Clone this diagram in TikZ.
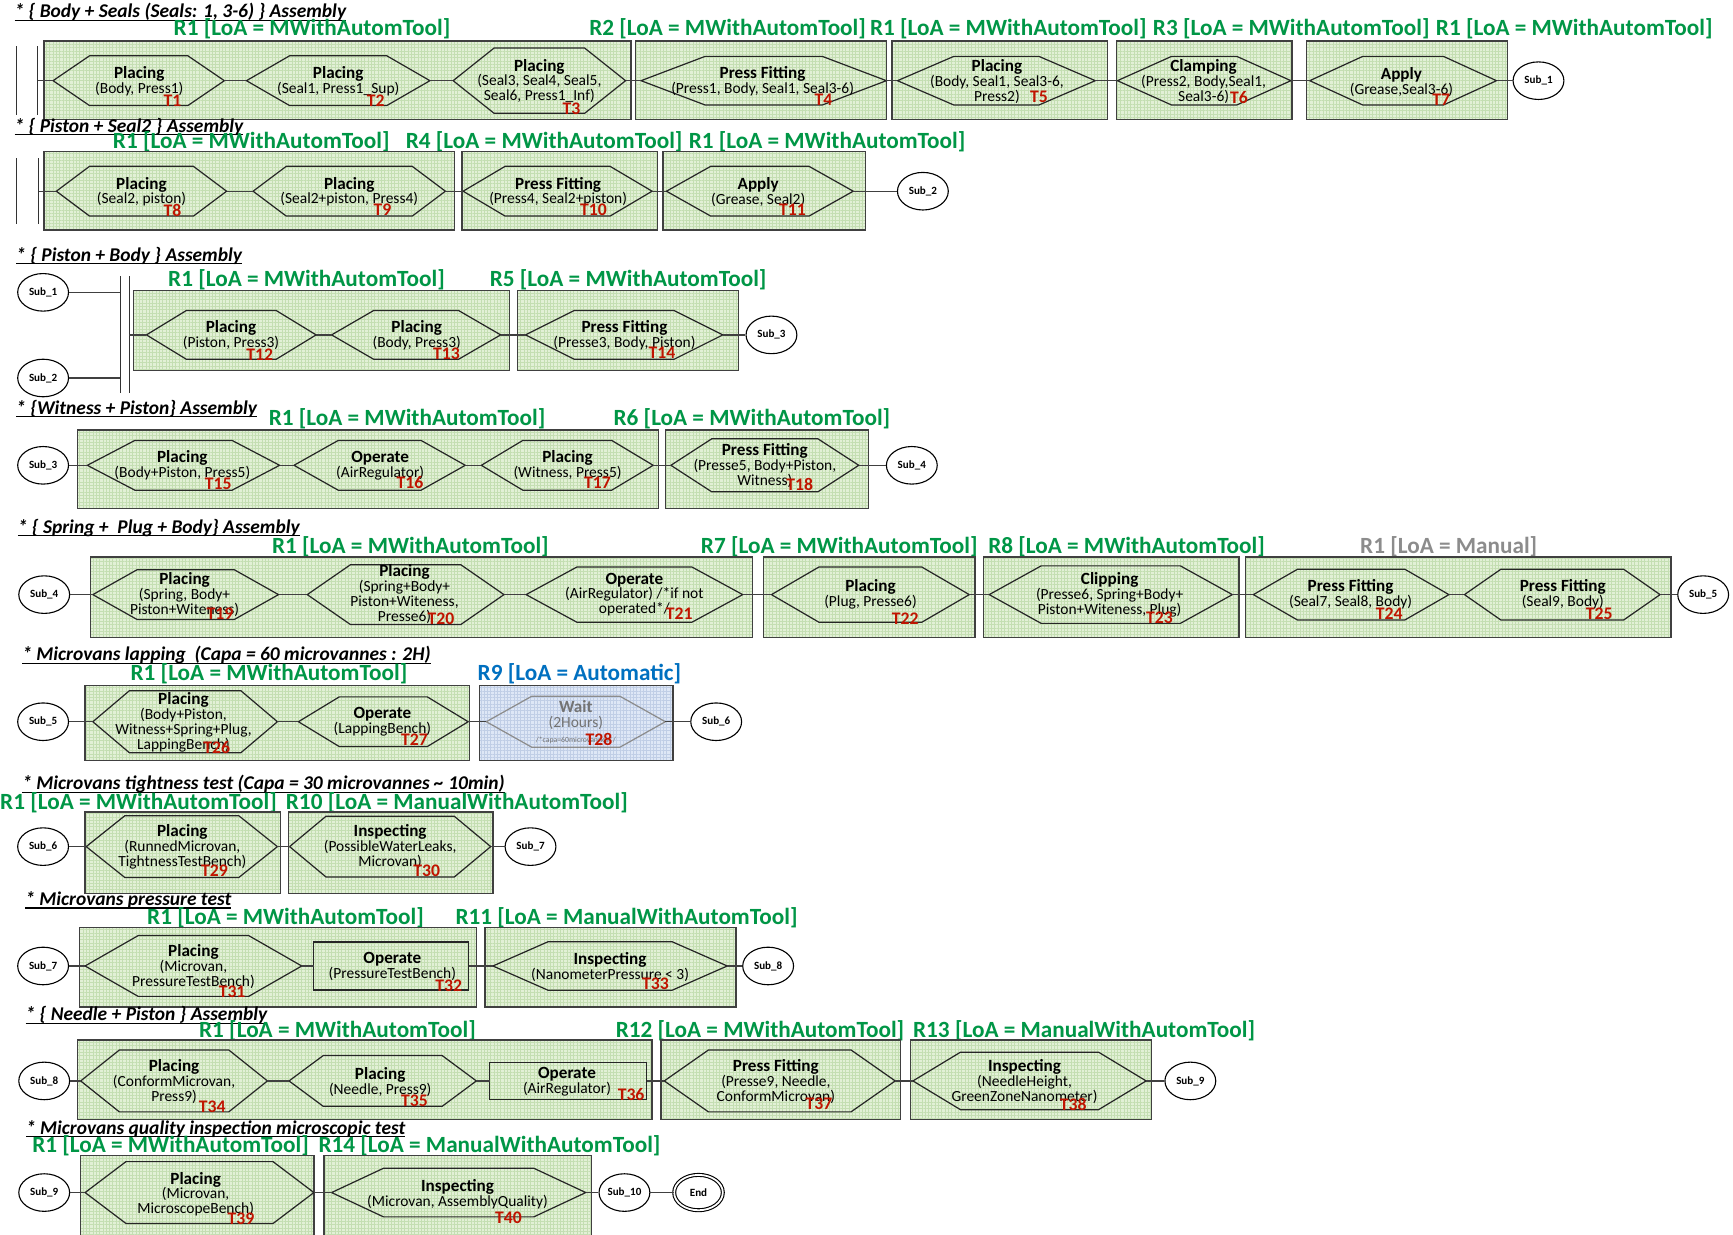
\documentclass[tikz,border=0pt]{standalone}
\usepackage{fontspec}
\setmainfont{Carlito}
\usetikzlibrary{shapes.geometric,patterns.meta}
\definecolor{lgreen}{RGB}{0,150,70}
\definecolor{lblue}{RGB}{0,112,192}
\definecolor{lgrey}{RGB}{140,140,140}
\definecolor{tred}{RGB}{192,20,0}
\definecolor{boxg}{RGB}{226,240,214}
\definecolor{gridg}{RGB}{196,222,178}
\definecolor{boxb}{RGB}{222,231,246}
\definecolor{gridb}{RGB}{192,206,230}
\definecolor{edge}{RGB}{64,64,64}
\newcommand{\xpf}{\fontsize{14}{13.5}\selectfont}
\newcommand{\xnm}[1]{{\fontsize{15.5}{13.5}\selectfont\bfseries #1}}
\newcommand{\xlf}{\fontsize{16}{16}\selectfont\bfseries}
\newcommand{\xrf}{\fontsize{21}{21}\selectfont\bfseries}
\newcommand{\xhf}{\fontsize{17.6}{17.6}\selectfont\bfseries\itshape}
\newcommand{\xsf}{\fontsize{10}{10}\selectfont\bfseries}
\newcommand{\xul}[1]{\setbox0=\hbox{#1}\rlap{\rule[-2.6pt]{\wd0}{1pt}}\box0}
\newcommand{\hexa}[7][]{%
  \node[hexanchor, minimum width={(#4-#3)*1pt}, minimum height={2*#6*1pt}] (#2) at ({(#3+#4)/2},#5) {};
  \draw[hexline,#1] (#2.west) -- ++(#7,-#6) -- ++({#4-#3-2*#7},0) -- (#2.east) -- ++(-#7,#6) -- ++({2*#7-#4+#3},0) -- cycle;
}
\newcommand{\rbox}[6][]{%
  \node[resbox,#1,minimum width={(#5-#3)*1pt},minimum height={(#6-#4)*1pt}] (#2) at ({(#3+#5)/2},{(#4+#6)/2}) {};
}
\tikzset{
 hexanchor/.style={rectangle, inner sep=0pt, outer sep=0pt, draw=none},
 hexline/.style={draw=black!85, line width=1.1pt},
 resbox/.style={rectangle, inner sep=0pt, outer sep=0pt, draw=edge, line width=1.3pt,
   preaction={fill=boxg}, pattern={Hatch[angle=0,distance=3pt,line width=0.45pt]}, pattern color=gridg},
 bluebox/.style={preaction={fill=boxb}, pattern color=gridb},
 conn/.style={draw=edge, line width=1.2pt},
 bar/.style={draw=black!80, line width=0.9pt},
 sub/.style={ellipse, draw=black, line width=1pt, fill=white, minimum width=46pt, minimum height=34pt, inner sep=0pt, font=\xsf},
 ttxt/.style={align=center, inner sep=0pt, font=\xpf},
 tlab/.style={inner sep=0pt, text=tred, font=\xlf},
 rlab/.style={anchor=west, inner sep=0pt, text=lgreen, font=\xrf},
 head/.style={anchor=west, inner sep=0pt, font=\xhf},
 oprect/.style={rectangle, draw=black!85, line width=1.1pt, inner sep=0pt, outer sep=0pt},
}
\begin{document}
\begin{tikzpicture}[x=1pt,y=-1pt]
\useasboundingbox (0,0) rectangle (1568,1117);
\fill[white] (0,0) rectangle (1568,1117);
% ================= Row 1
\node[head] (h1) at (13,11) {\xul{* \{ Body + Seals (Seals: 1, 3-6) \} Assembly}};
\node[rlab] (r1a) at (157,26) {R1 [LoA = MWithAutomTool]};
\node[rlab] (r1b) at (533,26) {R2 [LoA = MWithAutomTool]};
\node[rlab] (r1c) at (787,26) {R1 [LoA = MWithAutomTool]};
\node[rlab] (r1d) at (1043,26) {R3 [LoA = MWithAutomTool]};
\node[rlab] (r1e) at (1299,26) {R1 [LoA = MWithAutomTool]};
\rbox{B1a}{40}{37}{571}{108}
\rbox{B1b}{575}{37}{802}{108}
\rbox{B1c}{807}{37}{1002}{108}
\rbox{B1d}{1010}{37}{1169}{108}
\rbox{B1e}{1182}{37}{1364}{108}
\hexa{T1}{48}{203}{73}{22.5}{33}
\hexa{T2}{223}{389}{73}{22.5}{39}
\hexa{T3}{410}{566}{73}{29.5}{37}
\hexa{T4}{580}{802}{73}{22}{58}
\hexa{T5}{812}{991}{73}{22}{51}
\hexa{T6}{1011}{1168}{73}{22}{49}
\hexa{T7}{1185}{1354}{73}{22}{48}
\node[ttxt] (x1) at (126,73.5) {\xnm{Placing}\\(Body, Press1)};
\node[tlab] (l1) at (156,91) {T1};
\node[ttxt] (x2) at (306,73.5) {\xnm{Placing}\\(Seal1, Press1\_Sup)};
\node[tlab] (l2) at (340,91) {T2};
\node[ttxt] (x3) at (488,73.3) {\xnm{Placing}\\(Seal3, Seal4, Seal5,\\Seal6, Press1\_Inf)};
\node[tlab] (l3) at (517,98) {T3};
\node[ttxt] (x4) at (690,73.5) {\xnm{Press Fitting}\\(Press1, Body, Seal1, Seal3-6)};
\node[tlab] (l4) at (745,90) {T4};
\node[ttxt] (x5) at (902,73.5) {\xnm{Placing}\\(Body, Seal1, Seal3-6,\\Press2)};
\node[tlab] (l5) at (940,88) {T5};
\node[ttxt] (x6) at (1089,73.5) {\xnm{Clamping}\\(Press2, Body,Seal1,\\Seal3-6)};
\node[tlab] (l6) at (1121,88) {T6};
\node[ttxt] (x7) at (1268,74) {\xnm{Apply}\\(Grease,Seal3-6)};
\node[tlab] (l7) at (1304,90) {T7};
\node[sub] (s1) at (1392,73) {Sub\_1};
\coordinate (b1) at (34,73);
\draw[bar] (15,42) -- (15,104) (34,42) -- (34,104);
\draw[conn] (b1) -- (T1.west) (T1.east) -- (T2.west) (T2.east) -- (T3.west) (T3.east) -- (T4.west)
  (T4.east) -- (T5.west) (T5.east) -- (T6.west) (T6.east) -- (T7.west) (T7.east) -- (s1.west);
% ================= Row 2
\node[head] (h2) at (13,114.5) {\xul{* \{ Piston + Seal2 \} Assembly}};
\node[rlab] (r2a) at (102,128) {R1 [LoA = MWithAutomTool]};
\node[rlab] (r2b) at (367,128) {R4 [LoA = MWithAutomTool]};
\node[rlab] (r2c) at (623,128) {R1 [LoA = MWithAutomTool]};
\rbox{B2a}{40}{137}{411}{208}
\rbox{B2b}{418}{137}{595}{208}
\rbox{B2c}{600}{137}{783}{208}
\hexa{T8}{51}{205}{173}{22.5}{30}
\hexa{T9}{229}{403}{173}{22.5}{30}
\hexa{T10}{419}{590}{173}{22.5}{38}
\hexa{T11}{603}{772}{173}{22.5}{40}
\node[ttxt] (x8) at (128,173.5) {\xnm{Placing}\\(Seal2, piston)};
\node[tlab] (l8) at (156,190) {T8};
\node[ttxt] (x9) at (316,173.5) {\xnm{Placing}\\(Seal2+piston, Press4)};
\node[tlab] (l9) at (346,190) {T9};
\node[ttxt] (x10) at (505,173.5) {\xnm{Press Fitting}\\(Press4, Seal2+piston)};
\node[tlab] (l10) at (537,190) {T10};
\node[ttxt] (x11) at (686,173.5) {\xnm{Apply}\\(Grease, Seal2)};
\node[tlab] (l11) at (717,190) {T11};
\node[sub] (s2) at (835,173) {Sub\_2};
\coordinate (b2) at (35,173);
\draw[bar] (15,143) -- (15,203) (35,143) -- (35,203);
\draw[conn] (b2) -- (T8.west) (T8.east) -- (T9.west) (T9.east) -- (T10.west) (T10.east) -- (T11.west) (T11.east) -- (s2.west);
% ================= Row 3
\node[head] (h3) at (14.5,231.5) {\xul{* \{ Piston + Body \} Assembly}};
\node[rlab] (r3a) at (152,253) {R1 [LoA = MWithAutomTool]};
\node[rlab] (r3b) at (443,253) {R5 [LoA = MWithAutomTool]};
\rbox{B3a}{121}{263}{461}{335}
\rbox{B3b}{468}{263}{668}{335}
\hexa{T12}{132.5}{286}{303}{22}{36}
\hexa{T13}{300}{453}{303}{22}{38}
\hexa{T14}{475.5}{654}{303}{22}{44}
\node[ttxt] (x12) at (209,303.5) {\xnm{Placing}\\(Piston, Press3)};
\node[tlab] (l12) at (235,320.5) {T12};
\node[ttxt] (x13) at (377,303.5) {\xnm{Placing}\\(Body, Press3)};
\node[tlab] (l13) at (404,320.5) {T13};
\node[ttxt] (x14) at (565,303.5) {\xnm{Press Fitting}\\(Presse3, Body, Piston)};
\node[tlab] (l14) at (599,319.5) {T14};
\node[sub] (s1b) at (39,264.5) {Sub\_1};
\node[sub] (s2b) at (39,342) {Sub\_2};
\node[sub] (s3) at (698,303) {Sub\_3};
\draw[bar] (109,250) -- (109,356) (117,250) -- (117,356);
\coordinate (c3a) at (109,264.5);
\coordinate (c3b) at (109,342);
\coordinate (b3) at (117,303);
\draw[conn] (s1b.east) -- (c3a) (s2b.east) -- (c3b) (b3) -- (T12.west) (T12.east) -- (T13.west)
  (T13.east) -- (T14.west) (T14.east) -- (s3.west);
% ================= Row 4
\node[head] (h4) at (14.5,370) {\xul{* \{Witness + Piston\} Assembly}};
\node[rlab] (r4a) at (243,379) {R1 [LoA = MWithAutomTool]};
\node[rlab] (r4b) at (555,379) {R6 [LoA = MWithAutomTool]};
\rbox{B4a}{70}{389}{596}{460}
\rbox{B4b}{602}{389}{786}{460}
\hexa{T15}{79}{253}{421}{22.5}{43}
\hexa{T16}{266}{421}{421}{22.5}{40}
\hexa{T17}{435.5}{591}{421}{22.5}{37.5}
\hexa{T18}{607}{777}{421}{24}{37}
\node[ttxt] (x15) at (165,421) {\xnm{Placing}\\(Body+Piston, Press5)};
\node[tlab] (l15) at (197.5,438) {T15};
\node[ttxt] (x16) at (344,421) {\xnm{Operate}\\(AirRegulator)};
\node[tlab] (l16) at (371,437) {T16};
\node[ttxt] (x17) at (513.5,421) {\xnm{Placing}\\(Witness, Press5)};
\node[tlab] (l17) at (540.5,437) {T17};
\node[ttxt] (x18) at (692,421) {\xnm{Press Fitting}\\(Presse5, Body+Piston,\\Witness)};
\node[tlab] (l18) at (723.5,438.4) {T18};
\node[sub] (s3b) at (39,421) {Sub\_3};
\node[sub] (s4) at (825,421) {Sub\_4};
\draw[conn] (s3b.east) -- (T15.west) (T15.east) -- (T16.west) (T16.east) -- (T17.west) (T17.east) -- (T18.west) (T18.east) -- (s4.west);
% ================= Row 5
\node[head] (h5) at (16,477.5) {\xul{* \{ Spring +\ \ Plug + Body\} Assembly}};
\node[rlab] (r5a) at (246,494.5) {R1 [LoA = MWithAutomTool]};
\node[rlab] (r5b) at (634,494.5) {R7 [LoA = MWithAutomTool]};
\node[rlab] (r5c) at (894,494.5) {R8 [LoA = MWithAutomTool]};
\node[rlab, text=lgrey] (r5d) at (1230.5,494.5) {R1 [LoA = Manual]};
\rbox{B5a}{82}{504}{681}{577}
\rbox{B5b}{691}{504}{882}{577}
\rbox{B5c}{890}{504}{1121}{577}
\rbox{B5d}{1127}{504}{1512}{577}
\hexa{T19}{84}{252}{538}{22.5}{40}
\hexa{T20}{278}{456}{538}{27}{39}
\hexa{T21}{476}{672}{538}{25}{46}
\hexa{T22}{698}{877}{538}{25}{43}
\hexa{T23}{895}{1115}{538}{26}{47}
\hexa{T24}{1134}{1311}{538}{23}{40}
\hexa{T25}{1325}{1502}{538}{23}{33}
\node[ttxt] (x19) at (167,538) {\xnm{Placing}\\(Spring, Body+\\Piston+Witeness)};
\node[tlab] (l19) at (199,555) {T19};
\node[ttxt] (x20) at (366,537.5) {\xnm{Placing}\\(Spring+Body+\\Piston+Witeness,\\Presse6)};
\node[tlab] (l20) at (399,560) {T20};
\node[ttxt] (x21) at (574,538) {\xnm{Operate}\\(AirRegulator) /*if not\\operated*/};
\node[tlab] (l21) at (614.5,555.5) {T21};
\node[ttxt] (x22) at (787.6,538) {\xnm{Placing}\\(Plug, Presse6)};
\node[tlab] (l22) at (819,560) {T22};
\node[ttxt] (x23) at (1004,538) {\xnm{Clipping}\\(Presse6, Spring+Body+\\Piston+Witeness, Plug)};
\node[tlab] (l23) at (1049,558.7) {T23};
\node[ttxt] (x24) at (1222,538) {\xnm{Press Fitting}\\(Seal7, Seal8, Body)};
\node[tlab] (l24) at (1257,555) {T24};
\node[ttxt] (x25) at (1414,538) {\xnm{Press Fitting}\\(Seal9, Body)};
\node[tlab] (l25) at (1447,555) {T25};
\node[sub] (s4b) at (40,538) {Sub\_4};
\node[sub] (s5) at (1541,538) {Sub\_5};
\draw[conn] (s4b.east) -- (T19.west) (T19.east) -- (T20.west) (T20.east) -- (T21.west) (T21.east) -- (T22.west)
  (T22.east) -- (T23.west) (T23.east) -- (T24.west) (T24.east) -- (T25.west) (T25.east) -- (s5.west);
% ================= Row 6
\node[head] (h6) at (20,593) {\xul{* Microvans lapping\ \ (Capa = 60 microvannes : 2H)}};
\node[rlab] (r6a) at (118,610) {R1 [LoA = MWithAutomTool]};
\node[rlab, text=lblue] (r6b) at (432,610) {R9 [LoA = Automatic]};
\rbox{B6a}{77}{620}{425}{688}
\rbox[bluebox]{B6b}{434}{620}{609}{688}
\hexa{T26}{84}{251}{653}{28}{33}
\hexa{T27}{270}{423.6}{653}{22.5}{37}
\hexa[draw=black!45]{T28}{440}{602}{653}{23}{41}
\node[ttxt] (x26) at (166,653.8) {\xnm{Placing}\\(Body+Piston,\\Witness+Spring+Plug,\\LappingBench)};
\node[tlab] (l26) at (196,676) {T26};
\node[ttxt] (x27) at (346,653) {\xnm{Operate}\\(LappingBench)};
\node[tlab] (l27) at (375,669) {T27};
\node[ttxt, text=black!55] (x28) at (521,653.5) {\xnm{Wait}\\(2Hours)\\{\fontsize{7}{7}\selectfont /*capa=60microvannes*/}};
\node[tlab] (l28) at (542,669) {T28};
\node[sub] (s5b) at (39,653) {Sub\_5};
\node[sub] (s6) at (648,653) {Sub\_6};
\draw[conn] (s5b.east) -- (T26.west) (T26.east) -- (T27.west) (T27.east) -- (T28.west) (T28.east) -- (s6.west);
% ================= Row 7
\node[head] (h7) at (20,709.5) {\xul{* Microvans tightness test (Capa = 30 microvannes \textasciitilde{} 10min)}};
\node[rlab] (r7a) at (0,726.7) {R1 [LoA = MWithAutomTool]};
\node[rlab] (r7b) at (258.5,726.7) {R10 [LoA = ManualWithAutomTool]};
\rbox{B7a}{77}{734.6}{254}{808.4}
\rbox{B7b}{261}{734.6}{446}{808.4}
\hexa{T29}{78}{251}{766}{28}{35}
\hexa{T30}{262}{444}{766}{27.5}{33}
\node[ttxt] (x29) at (165,766) {\xnm{Placing}\\(RunnedMicrovan,\\TightnessTestBench)};
\node[tlab] (l29) at (194,788) {T29};
\node[ttxt] (x30) at (353,766) {\xnm{Inspecting}\\(PossibleWaterLeaks,\\Microvan)};
\node[tlab] (l30) at (386,788) {T30};
\node[sub] (s6b) at (39,766) {Sub\_6};
\node[sub] (s7) at (480,766) {Sub\_7};
\draw[conn] (s6b.east) -- (T29.west) (T29.east) -- (T30.west) (T30.east) -- (s7.west);
% ================= Row 8
\node[head] (h8) at (22.7,814.5) {\xul{* Microvans pressure test}};
\node[rlab] (r8a) at (133,830) {R1 [LoA = MWithAutomTool]};
\node[rlab] (r8b) at (412,830) {R11 [LoA = ManualWithAutomTool]};
\rbox{B8a}{72}{839}{431}{911}
\rbox{B8b}{439}{839}{666}{911}
\hexa{T31}{77}{273}{874}{27.5}{48}
\node[oprect, minimum width=140pt, minimum height=43.5pt] (T32) at (354,874) {};
\hexa{T33}{446}{658}{874}{22}{50}
\node[ttxt] (x31) at (175,874.5) {\xnm{Placing}\\(Microvan,\\PressureTestBench)};
\node[tlab] (l31) at (210,897) {T31};
\node[ttxt] (x32) at (355,874.7) {\xnm{Operate}\\(PressureTestBench)};
\node[tlab] (l32) at (406,891.7) {T32};
\node[ttxt] (x33) at (552,874.7) {\xnm{Inspecting}\\(NanometerPressure < 3)};
\node[tlab] (l33) at (593,890) {T33};
\node[sub] (s7b) at (39,874) {Sub\_7};
\node[sub] (s8) at (695,874) {Sub\_8};
\draw[conn] (s7b.east) -- (T31.west) (T31.east) -- (T32.west) (T32.east) -- (T33.west) (T33.east) -- (s8.west);
% ================= Row 9
\node[head] (h9) at (23,918.5) {\xul{* \{ Needle + Piston \} Assembly}};
\node[rlab] (r9a) at (180,933) {R1 [LoA = MWithAutomTool]};
\node[rlab] (r9b) at (557,933) {R12 [LoA = MWithAutomTool]};
\node[rlab] (r9c) at (826,933) {R13 [LoA = ManualWithAutomTool]};
\rbox{B9a}{70}{941}{590}{1013}
\rbox{B9b}{598}{941}{815}{1013}
\rbox{B9c}{824}{941}{1042}{1013}
\hexa{T34}{73}{242}{978}{28}{35}
\hexa{T35}{261.5}{431}{978}{23}{31}
\node[oprect, minimum width=142pt, minimum height=33pt] (T36) at (514,978) {};
\hexa{T37}{601}{810}{978}{28}{40}
\hexa{T38}{826}{1037}{978}{26}{43}
\node[ttxt] (x34) at (157.5,978.8) {\xnm{Placing}\\(ConformMicrovan,\\Press9)};
\node[tlab] (l34) at (192,1001) {T34};
\node[ttxt] (x35) at (344,978.7) {\xnm{Placing}\\(Needle, Press9)};
\node[tlab] (l35) at (375,996) {T35};
\node[ttxt] (x36) at (513,978.7) {\xnm{Operate}\\(AirRegulator)};
\node[tlab] (l36) at (571,990) {T36};
\node[ttxt] (x37) at (702,978.5) {\xnm{Press Fitting}\\(Presse9, Needle,\\ConformMicrovan)};
\node[tlab] (l37) at (741,999) {T37};
\node[ttxt] (x38) at (927,978.5) {\xnm{Inspecting}\\(NeedleHeight,\\GreenZoneNanometer)};
\node[tlab] (l38) at (971,999) {T38};
\node[sub] (s8b) at (40,978) {Sub\_8};
\node[sub] (s9) at (1077,978) {Sub\_9};
\draw[conn] (s8b.east) -- (T34.west) (T34.east) -- (T35.west) (T35.east) -- (T36.west) (T36.east) -- (T37.west)
  (T37.east) -- (T38.west) (T38.east) -- (s9.west);
% ================= Row 10
\node[head] (h10) at (23.4,1021.5) {\xul{* Microvans quality inspection microscopic test}};
\node[rlab] (r10a) at (29,1036.5) {R1 [LoA = MWithAutomTool]};
\node[rlab] (r10b) at (288,1036.5) {R14 [LoA = ManualWithAutomTool]};
\rbox{B10a}{73}{1045.5}{284}{1130}
\rbox{B10b}{293}{1045.5}{535}{1130}
\hexa{T39}{77}{284}{1079}{28}{37}
\hexa{T40}{300}{530}{1079}{22}{47}
\node[ttxt] (x39) at (177,1080.5) {\xnm{Placing}\\(Microvan,\\MicroscopeBench)};
\node[tlab] (l39) at (218,1103) {T39};
\node[ttxt] (x40) at (414,1080.5) {\xnm{Inspecting}\\(Microvan, AssemblyQuality)};
\node[tlab] (l40) at (460,1102) {T40};
\node[sub] (s9b) at (40,1079) {Sub\_9};
\node[sub] (s10) at (565,1079) {Sub\_10};
\node[sub, double, double distance=1.6pt, minimum width=44pt, minimum height=32pt] (end) at (632,1079) {End};
\draw[conn] (s9b.east) -- (T39.west) (T39.east) -- (T40.west) (T40.east) -- (s10.west) (s10.east) -- (end.west);
\end{tikzpicture}
\end{document}
